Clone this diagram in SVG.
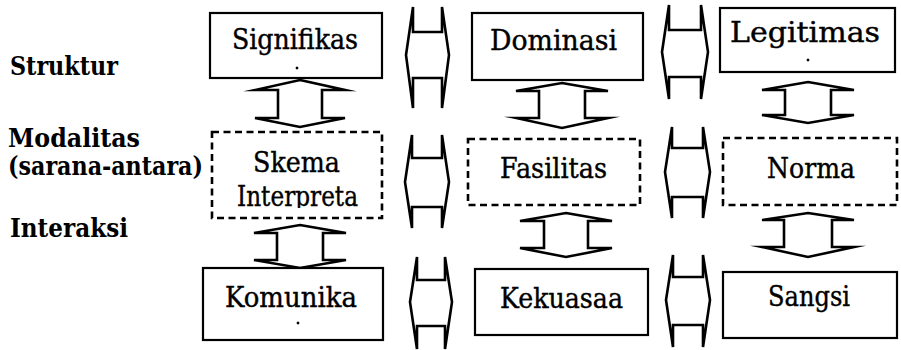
<svg xmlns="http://www.w3.org/2000/svg" width="901" height="350" viewBox="0 0 901 350">
<style>
.box{fill:#fff;stroke:#000;stroke-width:2.2}
.dash{fill:#fff;stroke:#000;stroke-width:2.6;stroke-dasharray:7 4.5}
.arr{fill:#fff;stroke:#000;stroke-width:2.6;stroke-linejoin:miter;stroke-miterlimit:10}
.dot{fill:#000}
</style>
<defs>
<clipPath id="clipInt"><rect x="200" y="120" width="200" height="88"/></clipPath>
</defs>
<rect width="901" height="350" fill="#fff"/>
<g id="labels" font-family="DejaVu Serif, Liberation Serif, serif" font-size="26" font-weight="bold" fill="#000">
<text x="10" y="75" textLength="108" lengthAdjust="spacingAndGlyphs">Struktur</text>
<text x="8" y="147" textLength="132" lengthAdjust="spacingAndGlyphs">Modalitas</text>
<text x="8" y="175" textLength="195" lengthAdjust="spacingAndGlyphs">(sarana-antara)</text>
<text x="10" y="237" textLength="118" lengthAdjust="spacingAndGlyphs">Interaksi</text>
</g>
<g id="connectors">
<path class="arr" d="M406,55 L413,7 L413,32 L442,32 L442,7 L449,55 L442,108 L442,78 L413,78 L413,108 Z"/>
<path class="arr" d="M662,52 L669,5 L669,30 L701,30 L701,5 L708,52 L701,99 L701,77 L669,77 L669,99 Z"/>
<path class="arr" d="M405,182 L412,135 L412,158 L442,158 L442,135 L449,182 L442,228 L442,207 L412,207 L412,228 Z"/>
<path class="arr" d="M665,172 L672,127 L672,148 L703,148 L703,127 L710,172 L703,218 L703,197 L672,197 L672,218 Z"/>
<path class="arr" d="M410,302 L417,257 L417,280 L445,280 L445,257 L452,302 L445,349 L445,326 L417,326 L417,349 Z"/>
<path class="arr" d="M666,300 L673,255 L673,277 L703,277 L703,255 L710,300 L703,347 L703,325 L673,325 L673,347 Z"/>
<path class="arr" d="M300,80 L345,90 L322,90 L322,118 L345,118 L300,127 L255,118 L278,118 L278,90 L255,90 Z"/>
<path class="arr" d="M300,225 L346,233 L323,233 L323,260 L346,260 L300,268 L254,260 L277,260 L277,233 L254,233 Z"/>
<path class="arr" d="M562,83 L608,91 L585,91 L585,118 L608,118 L562,128 L516,118 L539,118 L539,91 L516,91 Z"/>
<path class="arr" d="M566,213 L612,221 L588,221 L588,248 L612,248 L566,257 L520,248 L544,248 L544,221 L520,221 Z"/>
<path class="arr" d="M808,82 L854,90 L831,90 L831,115 L854,115 L808,123 L762,115 L785,115 L785,90 L762,90 Z"/>
<path class="arr" d="M808,213 L854,220 L832,220 L832,247 L854,247 L808,257 L762,247 L784,247 L784,220 L762,220 Z"/>
</g>
<g font-family="DejaVu Serif, Liberation Serif, serif" font-size="27" fill="#000" stroke="#000" stroke-width="0.4">
<g id="signifikas">
<rect class="box" x="210" y="13" width="172" height="65"/>
<text x="232" y="49" textLength="126" lengthAdjust="spacingAndGlyphs">Signifikas</text>
<circle class="dot" cx="297" cy="68" r="1.2"/>
</g>
<g id="dominasi">
<rect class="box" x="472" y="13" width="171" height="67"/>
<text x="490" y="50" textLength="127" lengthAdjust="spacingAndGlyphs">Dominasi</text>
</g>
<g id="legitimas">
<rect class="box" x="720" y="8" width="175" height="64"/>
<text x="730" y="42" textLength="150" lengthAdjust="spacingAndGlyphs">Legitimas</text>
<circle class="dot" cx="808" cy="60" r="1.2"/>
</g>
<g id="skema">
<rect class="dash" x="212" y="132" width="170" height="86"/>
<text x="253" y="172" textLength="87" lengthAdjust="spacingAndGlyphs">Skema</text>
<text x="237" y="206" textLength="121" lengthAdjust="spacingAndGlyphs" clip-path="url(#clipInt)">Interpreta</text>
</g>
<g id="fasilitas">
<rect class="dash" x="468" y="139" width="172" height="66"/>
<text x="500" y="178" textLength="107" lengthAdjust="spacingAndGlyphs">Fasilitas</text>
</g>
<g id="norma">
<rect class="dash" x="723" y="138" width="174" height="67"/>
<text x="767" y="178" textLength="88" lengthAdjust="spacingAndGlyphs">Norma</text>
</g>
<g id="komunika">
<rect class="box" x="203" y="268" width="180" height="72"/>
<text x="225" y="307" textLength="132" lengthAdjust="spacingAndGlyphs">Komunika</text>
<circle class="dot" cx="298" cy="323" r="1.2"/>
</g>
<g id="kekuasaa">
<rect class="box" x="475" y="269" width="173" height="66"/>
<text x="500" y="308" textLength="123" lengthAdjust="spacingAndGlyphs">Kekuasaa</text>
</g>
<g id="sangsi">
<rect class="box" x="723" y="272" width="174" height="66"/>
<text x="768" y="306" textLength="82" lengthAdjust="spacingAndGlyphs">Sangsi</text>
</g>
</g>
</svg>
